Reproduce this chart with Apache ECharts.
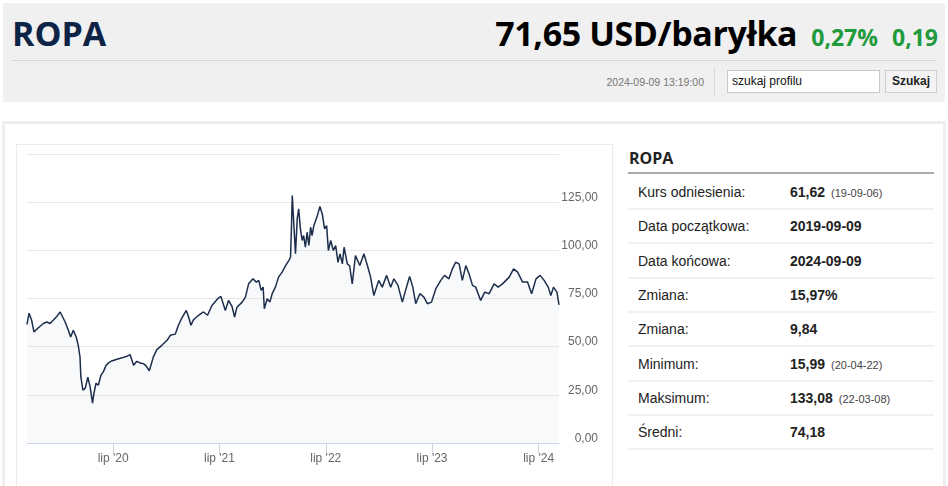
<!DOCTYPE html>
<html><head><meta charset="utf-8">
<script src="https://cdn.jsdelivr.net/npm/echarts@6/dist/echarts.min.js"></script>
<style>
html,body{margin:0;padding:0;background:#fff;width:948px;height:486px;overflow:hidden;font-family:"Liberation Sans",Arial,sans-serif;}
.abs{position:absolute;}
#hdr{left:3px;top:3px;width:942px;height:99px;background:#f0f0f0;}
.big{font-family:"Open Sans",sans-serif;font-weight:700;font-size:34px;line-height:34px;white-space:nowrap;}
.grn{font-family:"Open Sans",sans-serif;font-weight:700;font-size:23px;color:#1f9a3c;white-space:nowrap;}
#panel{left:2px;top:121px;width:938px;height:400px;border:3px solid #eeeeee;}
#chartbox{left:16px;top:144px;width:595px;height:350px;border:1px solid #ebebeb;}
#chart{left:17px;top:145px;width:595px;height:341px;}
.row{position:absolute;left:628px;width:306px;height:32px;border-bottom:2px solid #f0f0f0;font-size:14px;color:#222;}
.row .l{position:absolute;left:10px;top:0;line-height:32px;}
.row .v{position:absolute;left:162px;top:0;line-height:32px;font-weight:700;}
.row .s{font-weight:400;font-size:11px;color:#444;margin-left:6px;}
</style></head>
<body>
<div id="hdr" class="abs"></div>
<div class="abs big" style="left:12px;top:16px;color:#0d2447;">ROPA</div>
<div class="abs" style="right:10px;top:16px;display:flex;align-items:baseline;">
  <span class="big" style="color:#000;letter-spacing:-0.4px;">71,65 USD/baryłka</span>
  <span class="grn" style="margin-left:14px;">0,27%</span>
  <span class="grn" style="margin-left:14px;">0,19</span>
</div>
<div class="abs" style="left:12px;top:60px;width:925px;height:1px;background:#d6d6d6;"></div>
<div class="abs" style="left:560px;width:144px;top:76px;text-align:right;font-size:10.5px;color:#777;">2024-09-09 13:19:00</div>
<div class="abs" style="left:714px;top:67px;width:1px;height:29px;background:#d9d9d9;"></div>
<div class="abs" style="left:727px;top:70px;height:21px;background:#fff;border:1px solid #c8c8c8;font-size:12px;line-height:21px;padding-left:4px;box-sizing:content-box;width:147px;color:#111;">szukaj profilu</div>
<div class="abs" style="left:885px;top:70px;width:50px;height:21px;background:#f3f3f3;border:1px solid #cfcfcf;font-size:12px;line-height:21px;text-align:center;font-weight:700;color:#222;">Szukaj</div>

<div id="panel" class="abs"></div>
<div id="chartbox" class="abs"></div>
<div id="chart" class="abs"></div>

<div class="abs" style="left:629px;top:147px;font-size:16px;font-weight:700;color:#222;font-family:'Open Sans','Liberation Sans',sans-serif;">ROPA</div>
<div class="abs" style="left:628px;top:172px;width:306px;height:2px;background:#aaaaaa;"></div>
<div class="row" style="top:176px;"><span class="l">Kurs odniesienia:</span><span class="v">61,62<span class="s">(19-09-06)</span></span></div>
<div class="row" style="top:210.3px;"><span class="l">Data początkowa:</span><span class="v">2019-09-09</span></div>
<div class="row" style="top:244.6px;"><span class="l">Data końcowa:</span><span class="v">2024-09-09</span></div>
<div class="row" style="top:278.9px;"><span class="l">Zmiana:</span><span class="v">15,97%</span></div>
<div class="row" style="top:313.2px;"><span class="l">Zmiana:</span><span class="v">9,84</span></div>
<div class="row" style="top:347.5px;"><span class="l">Minimum:</span><span class="v">15,99<span class="s">(20-04-22)</span></span></div>
<div class="row" style="top:381.8px;"><span class="l">Maksimum:</span><span class="v">133,08<span class="s">(22-03-08)</span></span></div>
<div class="row" style="top:416.1px;"><span class="l">Średni:</span><span class="v">74,18</span></div>

<script>
const dates = ['2019-09-09','2019-09-16','2019-09-25','2019-10-03','2019-10-12','2019-10-24','2019-11-04','2019-11-16','2019-11-27','2019-12-08','2019-12-20',
'2020-01-01','2020-01-06','2020-01-18','2020-01-29','2020-02-06','2020-02-15','2020-02-25','2020-03-03','2020-03-09','2020-03-12','2020-03-19','2020-03-27','2020-04-05','2020-04-13','2020-04-21','2020-04-26','2020-05-03','2020-05-11','2020-05-20','2020-05-28','2020-06-07','2020-06-15','2020-06-26','2020-07-14','2020-07-31','2020-08-17','2020-08-28','2020-09-09','2020-09-20','2020-10-02','2020-10-13','2020-10-22','2020-11-02','2020-11-16','2020-11-28','2020-12-15',
'2021-01-02','2021-01-13','2021-01-30','2021-02-10','2021-02-22','2021-03-09','2021-03-17','2021-03-25','2021-04-03','2021-04-20','2021-05-07','2021-05-21','2021-06-05','2021-06-25','2021-07-06','2021-07-21','2021-08-01','2021-08-13','2021-08-22','2021-08-30','2021-09-17','2021-09-28','2021-10-09','2021-10-24','2021-11-05','2021-11-13','2021-11-21','2021-11-28','2021-12-02','2021-12-12','2021-12-21','2021-12-29',
'2022-01-09','2022-01-20','2022-02-01','2022-02-13','2022-02-24','2022-03-02','2022-03-05','2022-03-08','2022-03-13','2022-03-19','2022-03-25','2022-03-30','2022-04-05','2022-04-11','2022-04-16','2022-04-22','2022-04-28','2022-05-04','2022-05-10','2022-05-15','2022-05-21','2022-06-02','2022-06-11','2022-06-19','2022-06-27','2022-07-04','2022-07-10','2022-07-18','2022-07-27','2022-08-04','2022-08-12','2022-08-19','2022-08-27','2022-09-02','2022-09-13','2022-09-21','2022-09-30','2022-10-11','2022-10-26','2022-11-09','2022-11-21','2022-12-02','2022-12-13','2022-12-30',
'2023-01-11','2023-01-26','2023-02-09','2023-02-20','2023-03-06','2023-03-21','2023-04-01','2023-04-15','2023-04-26','2023-05-06','2023-05-20','2023-06-03','2023-06-15','2023-06-29','2023-07-14','2023-07-31','2023-08-13','2023-08-28','2023-09-09','2023-09-20','2023-10-02','2023-10-13','2023-10-25','2023-11-05','2023-11-17','2023-11-28','2023-12-15','2023-12-29',
'2024-01-13','2024-01-30','2024-02-13','2024-02-28','2024-03-22','2024-04-06','2024-04-20','2024-05-07','2024-05-24','2024-06-07','2024-06-22','2024-07-06','2024-07-20','2024-08-03','2024-08-12','2024-08-21','2024-09-02','2024-09-09'];

const prices = [61.6,67.4,63.7,57.6,59.0,60.6,62.0,62.8,62.0,63.7,65.7,
68.0,67.3,62.8,58.5,55.0,58.5,55.0,50.7,44.7,34.3,27.4,28.5,34.2,29.0,20.7,25.9,31.0,30.0,35.2,36.9,40.4,41.6,42.6,43.5,44.2,45.0,45.9,40.4,42.4,41.5,41.2,40.0,37.5,44.7,48.5,50.7,
53.3,55.9,56.5,61.1,65.0,68.8,65.4,61.1,64.0,66.3,68.0,66.3,71.4,74.9,76.1,68.8,74.0,70.9,65.4,70.5,73.1,75.7,82.6,85.2,83.5,84.4,79.2,80.9,69.7,74.9,73.1,77.5,
80.9,86.1,88.7,92.1,94.7,96.4,111.1,128.4,114.5,98.2,116.3,121.5,111.1,105.1,107.7,101.6,109.4,102.5,112.0,107.7,112.8,118.0,122.8,118.9,111.1,112.8,99.9,105.1,99.9,102.5,93.8,98.2,93.0,101.6,93.0,92.0,82.6,97.3,92.1,98.2,92.1,86.1,76.6,84.4,
80.9,87.0,80.9,85.2,81.8,73.1,79.2,86.4,80.9,72.3,77.5,75.7,72.3,73.1,80.1,84.4,87.0,85.2,90.4,93.8,93.0,84.4,92.1,87.8,81.8,80.9,74.0,78.3,
77.5,82.6,80.9,82.6,86.1,90.4,88.7,83.5,83.5,77.5,85.2,87.0,84.4,80.9,76.6,80.9,78.3,71.65];

const xTickDates = ['2020-07-01','2021-07-01','2022-07-01','2023-07-01','2024-07-01'];
const xTickLabels = ["lip '20","lip '21","lip '22","lip '23","lip '24"];
const yTicks = [0,25,50,75,100,125,150];

const toTs = s => { const p = s.split('-'); return Date.UTC(+p[0], +p[1]-1, +p[2]); };
const xTickTs = xTickDates.map(toTs);

const chart = echarts.init(document.getElementById('chart'), null, {renderer:'canvas'});
chart.setOption({
  animation:false,
  grid:{left:10, top:9, width:532, height:289, containLabel:false},
  xAxis:{
    type:'value',
    min:toTs('2019-09-09'), max:toTs('2024-09-09'),
    axisLine:{show:true, lineStyle:{color:'#ccd6eb', width:1}},
    axisTick:{show:true, length:10, lineStyle:{color:'#ccd6eb'}, customValues:xTickTs},
    axisLabel:{customValues:xTickTs, color:'#666', fontSize:12, margin:10, fontFamily:'Liberation Sans',
      formatter:v => { const i = xTickTs.indexOf(v); return i>=0 ? xTickLabels[i] : ''; }},
    splitLine:{show:false}
  },
  yAxis:{
    type:'value', position:'right', min:0, max:150, interval:25,
    axisLine:{show:false}, axisTick:{show:false},
    splitLine:{show:true, lineStyle:{color:'#e6e6e6', width:1}},
    axisLabel:{margin:39, align:'right', verticalAlign:'middle',
      rich:{t:{color:'#666', fontSize:12, fontFamily:'Liberation Sans', lineHeight:14, padding:[0,0,9,0]}},
      formatter:v => v===150 ? '' : '{t|' + v.toFixed(2).replace('.', ',') + '}'}
  },
  series:[{
    type:'line', symbol:'none', silent:true,
    data: dates.map((d,i)=>[toTs(d), prices[i]]),
    lineStyle:{color:'#1c2e4b', width:1.5},
    areaStyle:{color:'rgba(218,226,238,0.3)'}
  }]
});
</script>
</body></html>
